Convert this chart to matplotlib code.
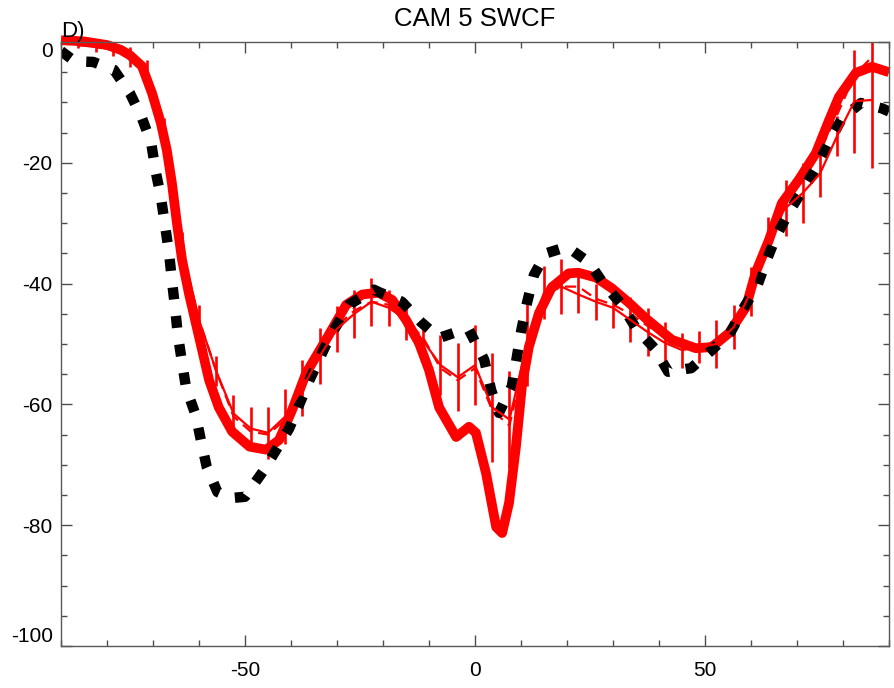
import numpy as np
import matplotlib
matplotlib.use("Agg")
import matplotlib.pyplot as plt
from matplotlib.ticker import MultipleLocator

plt.rcParams['font.family'] = ['Liberation Sans', 'DejaVu Sans']

# observations (black dashed)
obs_lat = [-90, -87, -83, -78.5, -75, -72.4, -70.4, -69.4, -68.3, -67.4, -66.5, -65.9,
           -65.2, -64.6, -63.7, -62.8, -60.7, -59.6, -58.3, -56, -53, -50, -46, -40.4,
           -36, -31.7, -27.4, -22, -20.9, -15.9, -11.7, -7.8, -2.8, -1.3, 2, 3.5, 5.2,
           8, 9, 10, 11.3, 12.8, 15.4, 20, 24.8, 28, 31.7, 35, 39, 42, 47, 51.5, 55.6,
           58.5, 61.3, 63.2, 65.4, 68.3, 71.5, 74.3, 77, 79.8, 83.9, 88.5, 90]
obs_val = [-1.5, -3.2, -3.3, -4.6, -8.5, -12.6, -16.7, -21.5, -25.6, -30.3, -35, -39.4,
           -44, -48.5, -53, -57.3, -61.8, -65.9, -70.4, -74.5, -75.5, -75.3, -71, -64,
           -56, -49, -43.5, -41, -41.4, -43, -46.4, -49, -47.7, -47.7, -52.6, -57.6, -61.4,
           -57, -52.6, -48, -43.2, -38.6, -35, -33.9, -36.5, -40.1, -43.3, -47.4, -50.7, -54.6, -54, -51, -48,
           -43.9, -40.5, -36.5, -32.3, -28.1, -24.2, -20.7, -16.6, -12.6, -10.1, -11, -11.5]

# CAM5 default (thick red)
cam_lat = [-90, -85, -80, -77, -75, -72.4, -70.2, -68.3, -67, -65.9, -64.8, -63.7, -62.2,
           -60, -57.8, -55.7, -52.8, -49, -45.4, -42.6, -39.8, -36.7, -32.4, -28, -24.5,
           -21, -18, -15, -12.2, -10, -7.8, -4.1, -1.3, 0.2, 2.4, 4.6, 5.9, 7.4, 8.9,
           10.2, 11.7, 13.9, 16.7, 20.4, 22.5, 26.3, 29.8, 33.5, 37.2, 42.8, 48, 51.5,
           55.2, 58.9, 61, 63.9, 66.7, 70.4, 74.1, 77, 79.1, 82.8, 86.3, 90]
cam_val = [0.3, 0.1, -0.5, -1.3, -2.2, -4, -8.5, -13.4, -17.9, -23.3, -30, -36, -41.6,
           -48.8, -56, -60.5, -64.5, -67, -67.5, -65.9, -61, -54.8, -49.3, -43.5, -41.8,
           -41.5, -42.7, -46, -49.8, -54.3, -60.5, -65.4, -63.7, -64.7, -71.4, -80.3, -81.3, -76.3, -67,
           -57, -50.5, -44.9, -40.6, -38.3, -38.2, -39, -40.8, -43.2, -45.8, -49.3, -50.7, -50.5,
           -48.2, -43.9, -38.2, -32.8, -26.7, -22.8, -18.4, -12.9, -9.1, -5.1, -4.1, -5]

# ensemble mean with spread (thin red + error bars) and second member (thin dashed)
ens_lat = np.arange(-86.25, 87, 3.75)
ens_mean = [-0.5, -0.8, -1.2, -2.5, -5.5, -15, -34, -46, -54.5, -61.5, -64, -64.7,
            -62, -57.3, -52, -47.5, -45, -43, -44, -46, -49.5, -53.5, -55.5, -53.5,
            -60.5, -62.5, -50, -41.5, -40.5, -41.8, -43, -44, -46, -48, -49.8, -51,
            -50.5, -50, -47.2, -41.3, -31.7, -27.5, -25, -21.8, -15.5, -9.8, -9.6]
ens_err = [0.5, 0.8, 1.2, 1.7, 2.5, 2.5, 2.5, 2.5, 2.5, 3, 3.5, 4.3,
           4.5, 4.7, 4.6, 3.8, 4, 4, 3, 3.3, 3, 5, 5.6, 6.6,
           9, 8, 7, 4.4, 4.5, 3.1, 3, 3.3, 3.7, 4, 3.4, 2.9,
           2.7, 4, 3.7, 4.1, 2.7, 4.7, 4.9, 3.9, 3.3, 8.5, 11.2]
alt_val = [-0.5, -0.8, -1.2, -2.5, -5.5, -15, -34, -46, -54.5, -62, -64.5, -65,
           -62.5, -57, -51.5, -47, -44.5, -43, -43.5, -46, -49, -54, -56, -54,
           -61, -63.5, -51, -42, -40.5, -40.5, -42.5, -43.5, -45, -47, -48.5, -49.5,
           -50.5, -49.5, -47, -41, -32, -26, -22, -18, -12, -5.5, -2.5]

fig = plt.figure(figsize=(8.95, 6.88), dpi=100)
ax = fig.add_axes([61/895, 1-646/688, 828/895, 604/688])

ax.plot(ens_lat, alt_val, color='red', lw=1.6, dashes=(5, 3))
ax.errorbar(ens_lat, ens_mean, yerr=ens_err, color='red', lw=1.6,
            elinewidth=1.9, capsize=0)
ax.plot(cam_lat, cam_val, color='red', lw=7, solid_capstyle='butt',
        solid_joinstyle='round', clip_on=False)
ax.plot(obs_lat, obs_val, color='black', lw=7.5, dashes=(1.15, 1.6),
        dash_capstyle='butt')

ax.set_xlim(-90, 90)
ax.set_ylim(-100, 0)
ax.xaxis.set_minor_locator(MultipleLocator(10))
ax.yaxis.set_minor_locator(MultipleLocator(5))
ax.set_yticks(np.arange(-100, 1, 20))
ax.set_yticklabels(['-100', '-80', '-60', '-40', '-20', '0'])
ax.set_xticks([-50, 0, 50])
ax.set_xticklabels(['-50', '0', '50'])
ax.tick_params(which='both', direction='in', top=True, right=True,
               labelsize=15, color='0.3', width=1)
ax.tick_params(which='major', length=8)
ax.tick_params(which='minor', length=4.5)
ax.tick_params(axis='y', pad=6)
ax.tick_params(axis='x', pad=11)
for s in ax.spines.values():
    s.set_color('0.35')
    s.set_linewidth(1)

# keep the end labels inside the axis range like the original
yl = ax.get_yticklabels()
yl[0].set_va('bottom')
yl[-1].set_va('top')

fig.text(475/895, 1-19/688, 'CAM 5 SWCF', ha='center', va='center', fontsize=18.5)
fig.text(61/895, 1-37/688, 'D)', ha='left', va='baseline', fontsize=16)

fig.savefig('out.png', dpi=100)
